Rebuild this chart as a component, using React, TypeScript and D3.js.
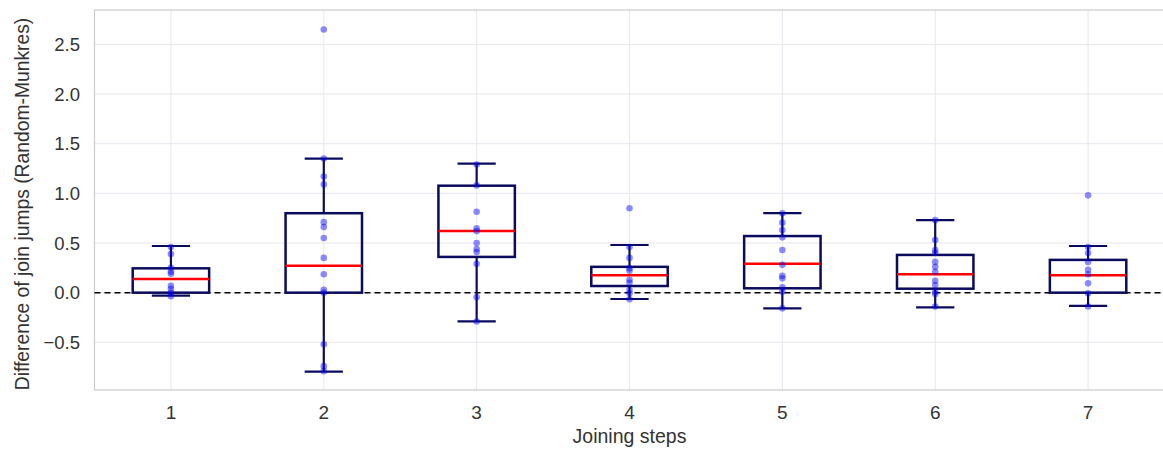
import React from "react";
import * as d3 from "d3";

const steps = [1, 2, 3, 4, 5, 6, 7];
const whiskerLow = [-0.03, -0.795, -0.29, -0.064, -0.158, -0.148, -0.134];
const q1 = [0.0, 0.0, 0.36, 0.067, 0.044, 0.04, 0.0];
const medians = [0.138, 0.27, 0.62, 0.175, 0.29, 0.185, 0.175];
const q3 = [0.245, 0.8, 1.077, 0.26, 0.57, 0.38, 0.33];
const whiskerHigh = [0.47, 1.35, 1.3, 0.48, 0.8, 0.73, 0.47];

const points1 = [0.46, 0.39, 0.25, 0.21, 0.19, 0.07, 0.04, 0.0, -0.035];
const points2 = [2.65, 1.35, 1.17, 1.09, 0.71, 0.66, 0.55, 0.35, 0.185, 0.03, 0.0, -0.52, -0.74, -0.79];
const points3 = [1.29, 1.08, 0.815, 0.648, 0.62, 0.5, 0.44, 0.41, 0.29, -0.047, -0.29];
const points4 = [0.85, 0.46, 0.35, 0.245, 0.22, 0.13, 0.1, 0.027, -0.007, -0.067];
const points5 = [0.8, 0.705, 0.63, 0.557, 0.43, 0.28, 0.17, 0.144, 0.054, 0.01, -0.158];
const points6 = [0.73, 0.53, 0.43, 0.4, 0.31, 0.26, 0.21, 0.12, 0.077, 0.01, -0.013, -0.14];
const points7 = [0.98, 0.46, 0.4, 0.31, 0.23, 0.185, 0.094, -0.007, -0.14];
const pointSets = [points1, points2, points3, points4, points5, points6, points7];

const yTicks = [-0.5, 0.0, 0.5, 1.0, 1.5, 2.0, 2.5];
const xLabel = "Joining steps";
const yLabel = "Difference of join jumps (Random-Munkres)";

const W = 1163;
const H = 450;
const left = 94.5;
const top = 10;
const bottom = 390;
const right = 1164.5;

export default function App() {
  const x = d3.scaleLinear().domain([0.5, 7.5]).range([left, right]);
  const y = d3.scaleLinear().domain([-0.98, 2.846]).range([bottom, top]);
  const boxW = x(1.25) - x(1);
  const capW = x(1.125) - x(1);
  const font = "'Liberation Sans', Arial, sans-serif";
  const textColor = "#333333";
  const navy = "#0b0b5e";

  return (
    <div style={{ position: "absolute", left: 0, top: 0 }}>
      <svg width={W} height={H} style={{ display: "block", background: "#fff" }}>
        {yTicks.map((t) => (
          <line key={"gy" + t} x1={left} x2={right} y1={y(t)} y2={y(t)} stroke="#e6e6ee" strokeWidth={1} />
        ))}
        {steps.map((s) => (
          <line key={"gx" + s} x1={x(s)} x2={x(s)} y1={top} y2={bottom} stroke="#e6e6ee" strokeWidth={1} />
        ))}
        <rect x={left} y={top} width={right - left} height={bottom - top} fill="none" stroke="#cccccc" strokeWidth={1.2} />
        <line x1={left} x2={right} y1={y(0)} y2={y(0)} stroke="#000" strokeWidth={1.5} strokeDasharray="6,4" />
        {steps.map((s, i) => {
          const cx = x(s);
          return (
            <g key={"b" + s}>
              <line x1={cx} x2={cx} y1={y(q3[i])} y2={y(whiskerHigh[i])} stroke={navy} strokeWidth={2.2} />
              <line x1={cx} x2={cx} y1={y(q1[i])} y2={y(whiskerLow[i])} stroke={navy} strokeWidth={2.2} />
              <line x1={cx - capW} x2={cx + capW} y1={y(whiskerHigh[i])} y2={y(whiskerHigh[i])} stroke={navy} strokeWidth={2.2} />
              <line x1={cx - capW} x2={cx + capW} y1={y(whiskerLow[i])} y2={y(whiskerLow[i])} stroke={navy} strokeWidth={2.2} />
              <rect x={cx - boxW} y={y(q3[i])} width={boxW * 2} height={y(q1[i]) - y(q3[i])} fill="none" stroke={navy} strokeWidth={2.5} />
              <line x1={cx - boxW} x2={cx + boxW} y1={y(medians[i])} y2={y(medians[i])} stroke="#ff0000" strokeWidth={2.5} />
            </g>
          );
        })}
        {pointSets.map((pts, i) =>
          pts.map((v, j) => (
            <circle key={"p" + i + "-" + j} cx={x(steps[i])} cy={y(v)} r={3.3} fill="#0000ff" fillOpacity={0.45} />
          ))
        )}
        {yTicks.map((t) => (
          <text key={"ty" + t} x={80} y={y(t)} dy="0.36em" textAnchor="end" fontFamily={font} fontSize={18.5} fill={textColor}>
            {t < 0 ? "\u2212" + d3.format(".1f")(-t) : d3.format(".1f")(t)}
          </text>
        ))}
        {steps.map((s) => (
          <text key={"tx" + s} x={x(s)} y={418.5} textAnchor="middle" fontFamily={font} fontSize={19} fill={textColor}>
            {s}
          </text>
        ))}
        <text x={(left + right) / 2} y={443} textAnchor="middle" fontFamily={font} fontSize={19.5} fill={textColor}>
          {xLabel}
        </text>
        <text transform={`translate(29, ${(top + bottom) / 2 + 4}) rotate(-90)`} textAnchor="middle" fontFamily={font} fontSize={19.3} fill={textColor}>
          {yLabel}
        </text>
      </svg>
    </div>
  );
}
